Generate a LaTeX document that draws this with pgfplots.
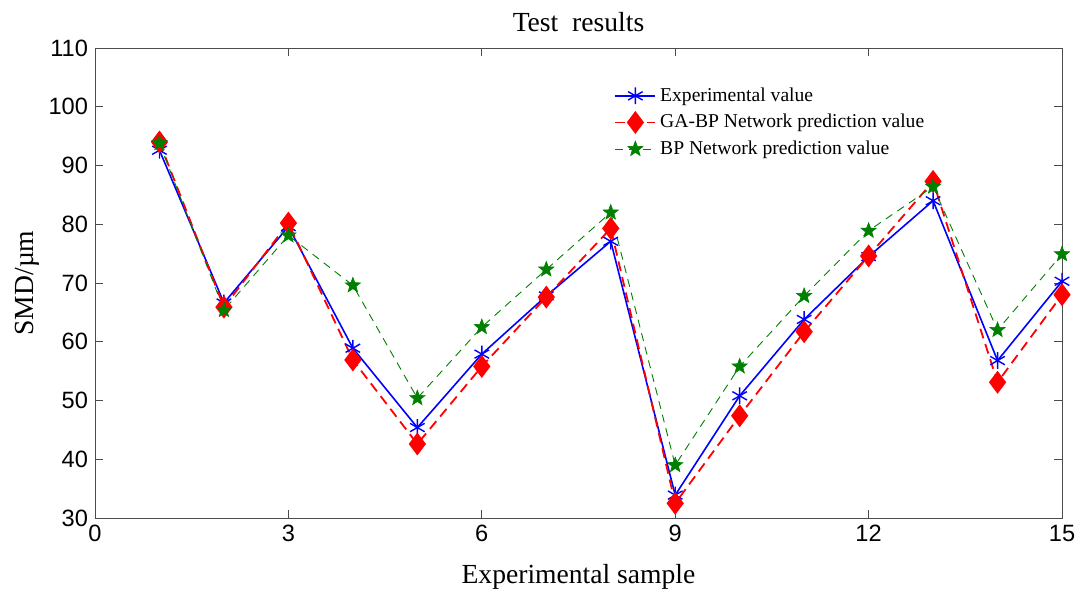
\documentclass[border=0pt]{standalone}
\usepackage{fontspec}
\setmainfont{Liberation Serif}
\newfontfamily\tickfont{Liberation Sans}
\usepackage{pgfplots}
\pgfplotsset{compat=1.18}
\usetikzlibrary{plotmarks}

\definecolor{mblue}{RGB}{0,0,255}
\definecolor{mred}{RGB}{255,0,0}
\definecolor{mgreen}{RGB}{0,128,0}

% filled five-pointed star
\pgfdeclareplotmark{fstar}{%
  \pgfpathmoveto{\pgfqpointpolar{90}{\pgfplotmarksize}}%
  \pgfpathlineto{\pgfqpointpolar{126}{0.42\pgfplotmarksize}}%
  \pgfpathlineto{\pgfqpointpolar{162}{\pgfplotmarksize}}%
  \pgfpathlineto{\pgfqpointpolar{198}{0.42\pgfplotmarksize}}%
  \pgfpathlineto{\pgfqpointpolar{234}{\pgfplotmarksize}}%
  \pgfpathlineto{\pgfqpointpolar{270}{0.42\pgfplotmarksize}}%
  \pgfpathlineto{\pgfqpointpolar{306}{\pgfplotmarksize}}%
  \pgfpathlineto{\pgfqpointpolar{342}{0.42\pgfplotmarksize}}%
  \pgfpathlineto{\pgfqpointpolar{18}{\pgfplotmarksize}}%
  \pgfpathlineto{\pgfqpointpolar{54}{0.42\pgfplotmarksize}}%
  \pgfpathclose
  \pgfusepathqfillstroke
}

\begin{document}
\begin{tikzpicture}
\begin{axis}[
    scale only axis,
    width=483.5pt, height=235pt,
    xmin=0, xmax=15, ymin=30, ymax=110,
    xtick={0,3,6,9,12,15},
    ytick={30,40,...,110},
    tick align=inside,
    major tick length=4pt,
    axis line style={black!70},
    every tick/.style={black!70},
    /pgf/number format/assume math mode=true,
    tick label style={font=\tickfont\fontsize{11.8}{13}\selectfont},
    title={Test\ \ results},
    every axis title/.style={font=\fontsize{13.8}{15}\selectfont,
        at={(axis description cs:0.5,1.0553)}, anchor=center},
    xlabel={Experimental sample},
    ylabel={SMD/µm},
    label style={font=\fontsize{13.8}{15}\selectfont},
    xlabel style={at={(axis description cs:0.5,-0.1255)}, anchor=center},
    ylabel style={at={(axis description cs:-0.0703,0.5)}, anchor=center},
    legend style={
        at={(axis cs:7.96,104.7)}, anchor=north west,
        draw=none, fill=white,
        font=\fontsize{9.8}{12}\selectfont,
        row sep=1pt,
    },
    legend cell align=left,
    legend image code/.code={
        \draw[#1] (0cm,0cm) -- (0.7cm,0cm);
        \draw[#1, solid] plot coordinates {(0.35cm,0cm)};
    },
]
\addplot[mblue, line width=0.8pt, mark=asterisk, mark size=4.2pt, mark options={line width=0.7pt}]
coordinates {
(1,92.6)(2,66.6)(3,79.6)(4,58.9)(5,45.4)(6,57.9)(7,67.8)(8,77.1)
(9,33.9)(10,50.8)(11,63.8)(12,74.5)(13,84.0)(14,56.8)(15,70.3)
};
\addlegendentry{Experimental value}
\addplot[mred, line width=0.9pt, dash pattern=on 5pt off 3pt, mark=diamond*, mark size=5pt, mark options={solid, fill=mred}]
coordinates {
(1,94.0)(2,65.9)(3,80.2)(4,56.9)(5,42.6)(6,55.8)(7,67.6)(8,79.3)
(9,32.5)(10,47.4)(11,61.7)(12,74.6)(13,87.3)(14,53.1)(15,68.0)
};
\addlegendentry{GA-BP Network prediction value}
\addplot[mgreen, line width=0.45pt, dash pattern=on 4pt off 3pt, mark=fstar, mark size=4pt, mark options={solid, fill=mgreen, line width=0.3pt}]
coordinates {
(1,93.8)(2,65.4)(3,78.1)(4,69.6)(5,50.4)(6,62.5)(7,72.3)(8,82.0)
(9,39.0)(10,55.8)(11,67.8)(12,78.9)(13,86.4)(14,62.0)(15,74.9)
};
\addlegendentry{BP Network prediction value}
\end{axis}
\pgfresetboundingbox
\path[use as bounding box] ([shift={(-47.5pt,-36.5pt)}]current axis.south west) rectangle ++(539.5pt,295.5pt);
\end{tikzpicture}
\end{document}
